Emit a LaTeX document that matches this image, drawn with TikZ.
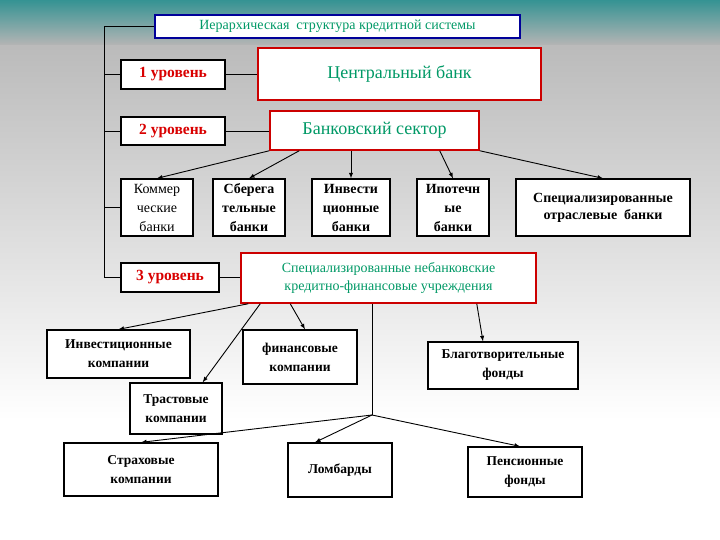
\documentclass[tikz,border=0pt]{standalone}
\usepackage{fontspec}
\setmainfont{Liberation Serif}
\begin{document}
\begin{tikzpicture}[x=1pt,y=-1pt,
  bx/.style={draw=black,line width=1.3pt,fill=white,align=center,inner sep=0pt,font=\fontsize{13.5}{19}\selectfont\bfseries},
  rbx/.style={draw=red!80!black,line width=1.5pt,fill=white,align=center,inner sep=0pt,text=teal!80!green},
  lvl/.style={bx,text=red!85!black,font=\fontsize{15.5}{16}\selectfont\bfseries},
  arr/.style={-latex,line width=0.9pt},
  ln/.style={line width=0.9pt}]
\useasboundingbox (0,0) rectangle (720,540);
\shade[top color=gray!60,bottom color=white] (0,0) rectangle (720,420);
\fill[white] (0,420) rectangle (720,540);
\shade[top color=teal!50!cyan!70!black,bottom color=gray!60,opacity=0.7] (0,0) rectangle (720,45);
\newcommand\bxn[6]{\node[#1,minimum width=#4-#2,minimum height=#5-#3] (#6) at ({(#2+#4)/2},{(#3+#5)/2})}
\bxn{bx}{155}{15}{520}{38}{title} [draw=blue!60!black,text=teal!80!green,font=\fontsize{14}{15}\selectfont] {Иерархическая\ \ структура кредитной системы};
\bxn{lvl}{121}{60}{225}{89}{l1} {1 уровень};
\bxn{rbx}{258}{48}{541}{100}{cb} [font=\fontsize{18}{19}\selectfont] {Центральный банк};
\bxn{lvl}{121}{117}{225}{145}{l2} {2 уровень};
\bxn{rbx}{270}{111}{479}{150}{bs} [font=\fontsize{18}{19}\selectfont] {Банковский сектор};
\bxn{bx}{121}{179}{193}{236}{k} [font=\fontsize{14}{19}\selectfont] {Коммер\\ческие\\банки};
\bxn{bx}{213}{179}{285}{236}{s} [font=\fontsize{14}{19}\selectfont\bfseries] {Сберега\\тельные\\банки};
\bxn{bx}{312}{179}{390}{236}{i} [font=\fontsize{14}{19}\selectfont\bfseries] {Инвести\\ционные\\банки};
\bxn{bx}{417}{179}{489}{236}{ip} [font=\fontsize{14}{19}\selectfont\bfseries] {Ипотечн\\ые\\банки};
\bxn{bx}{516}{179}{690}{236}{sp} [font=\fontsize{14}{17}\selectfont\bfseries] {Специализированные\\отраслевые\ \ банки};
\bxn{lvl}{121}{263}{219}{292}{l3} {3 уровень};
\bxn{rbx}{241}{253}{536}{303}{nb} [font=\fontsize{14}{18}\selectfont] {Специализированные небанковские\\кредитно-финансовые учреждения};
\bxn{bx}{47}{330}{190}{378}{ic} {Инвестиционные\\компании};
\bxn{bx}{243}{330}{357}{384}{fc} {финансовые\\компании};
\bxn{bx}{428}{342}{578}{389}{bf} {Благотворительные\\фонды};
\bxn{bx}{130}{383}{222}{434}{tc} {Трастовые\\компании};
\bxn{bx}{64}{443}{218}{496}{sc} {Страховые\\компании};
\bxn{bx}{288}{443}{392}{497}{lo} {Ломбарды};
\bxn{bx}{468}{447}{582}{497}{pf} {Пенсионные\\фонды};
\coordinate (bt) at (104,26.5);
\coordinate (bb) at (104,277.5);
\coordinate (j) at (372,415);
\draw[ln] (title.west) -- (bt) -- (bb) -- (l3.west);
\draw[ln] (104,74.5) -- (l1.west);
\draw[ln] (104,131) -- (l2.west);
\draw[ln] (104,207.5) -- (k.west);
\draw[ln] (l1.east) -- (cb.west|-l1.east);
\draw[ln] (l2.east) -- (bs.west|-l2.east);
\draw[ln] (l3.east) -- (nb.west|-l3.east);
\draw[arr] (bs.south west) -- (k.north);
\draw[arr] ([xshift=30]bs.south west) -- (s.north);
\draw[arr] (bs.south-|i.north) -- (i.north);
\draw[arr] ([xshift=-40]bs.south east) -- (ip.north);
\draw[arr] (bs.south east) -- (sp.north);
\draw[arr] ([xshift=8]nb.south west) -- (ic.north);
\draw[arr] ([xshift=20]nb.south west) -- ([xshift=-20]tc.north east);
\draw[arr] ([xshift=50]nb.south west) -- ([xshift=5]fc.north);
\draw[arr] ([xshift=-60]nb.south east) -- ([xshift=-20]bf.north);
\draw[ln] (nb.south-|j) -- (j);
\draw[arr] (j) -- (sc.north);
\draw[arr] (j) -- ([xshift=-25]lo.north);
\draw[arr] (j) -- ([xshift=-5]pf.north);
\end{tikzpicture}
\end{document}
